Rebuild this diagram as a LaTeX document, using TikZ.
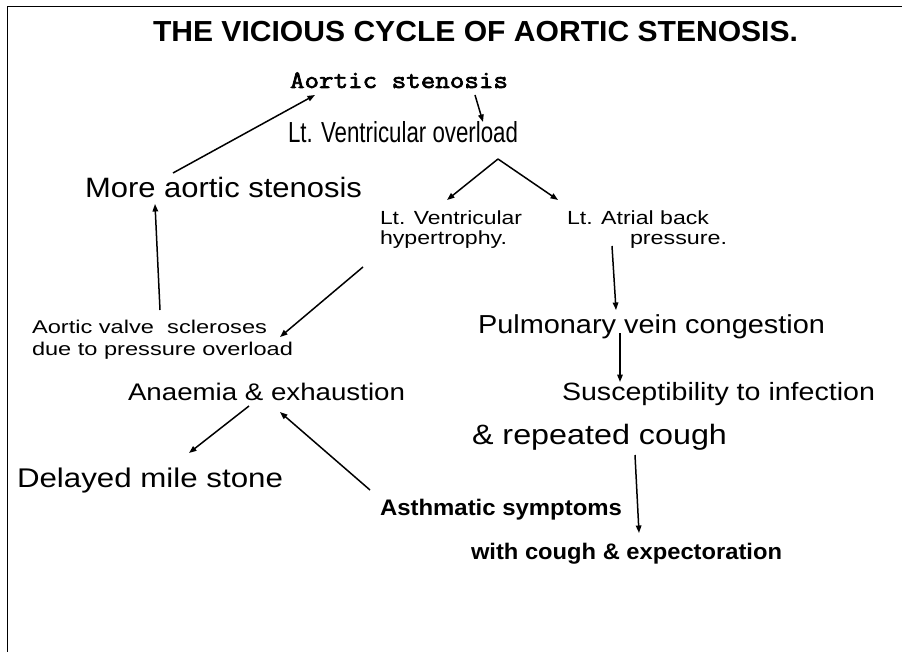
\documentclass[tikz,border=0pt]{standalone}
\usepackage{fontspec}
\setmainfont{Liberation Sans}
\newfontfamily\courb[FakeBold=2.5]{Latin Modern Mono}
\usetikzlibrary{arrows.meta}
\newcommand{\fitw}[3]{\resizebox{#1pt}{\height}{\fontsize{#2pt}{#2pt}\selectfont #3}}
\begin{document}
\begin{tikzpicture}[x=1pt,y=-1pt,
  lbl/.style={inner sep=0pt, outer sep=0pt, anchor=base west},
  arr/.style={-{Triangle[length=7.5pt,width=5.5pt]}, line width=1.5pt},
  frame/.style={line width=1pt}]
\fill[white] (0,0) rectangle (902,652);
\useasboundingbox (0,0) rectangle (902,652);
\draw[frame] (7,652) -- (7,7) -- (902,7);

\node[lbl] (title) at (153,42) {\fitw{645}{29}{\bfseries THE VICIOUS CYCLE OF AORTIC STENOSIS.}};
\node[lbl] (as) at (290,88) {\fitw{218}{25}{\courb Aortic stenosis}};
\node[lbl] (lvo) at (288,143) {\fitw{230}{29}{Lt. Ventricular overload}};
\node[lbl] (mas) at (85,198) {\fitw{277}{28}{More aortic stenosis}};
\node[lbl] (lvh1) at (380,225) {\fitw{142}{19}{Lt. Ventricular}};
\node[lbl] (lvh2) at (380,245) {\fitw{127}{19}{hypertrophy.}};
\node[lbl] (lab1) at (567,225) {\fitw{142}{19}{Lt. Atrial back}};
\node[lbl] (lab2) at (630,245) {\fitw{97}{19}{pressure.}};
\node[lbl] (avs1) at (32,333) {\fitw{235}{18.5}{Aortic valve\ \ scleroses}};
\node[lbl] (avs2) at (32,355) {\fitw{261}{18.5}{due to pressure overload}};
\node[lbl] (pvc) at (478,334) {\fitw{347}{26}{Pulmonary vein congestion}};
\node[lbl] (ae) at (128,400) {\fitw{277}{24}{Anaemia \& exhaustion}};
\node[lbl] (sti) at (562,400) {\fitw{313}{25}{Susceptibility to infection}};
\node[lbl] (rc) at (472,444) {\fitw{255}{28}{\& repeated cough}};
\node[lbl] (dms) at (17,487) {\fitw{266}{27}{Delayed mile stone}};
\node[lbl] (asy) at (380,515) {\fitw{242}{22.5}{\bfseries Asthmatic symptoms}};
\node[lbl] (wce) at (471,559) {\fitw{311}{22.5}{\bfseries with cough \& expectoration}};

\coordinate (masT) at (173,173);
\coordinate (asB) at (315,95);
\coordinate (asR) at (475,95);
\coordinate (lvoT) at (483,122);
\coordinate (split) at (498,159);
\coordinate (lvhT) at (447,200);
\coordinate (labT) at (558,200);
\coordinate (lvhB) at (363,267);
\coordinate (avsT) at (280,337);
\coordinate (avsU) at (160,310);
\coordinate (masB) at (155,204);
\coordinate (labB) at (612,246);
\coordinate (pvcT) at (616,310);
\coordinate (pvcB) at (620,333);
\coordinate (stiT) at (620,382);
\coordinate (aeB) at (249,406);
\coordinate (dmsT) at (189,453);
\coordinate (asyT) at (370,490);
\coordinate (aeR) at (280,412);
\coordinate (rcB) at (635,455);
\coordinate (wceT) at (639,533);

\draw[arr] (masT) -- (asB);
\draw[arr] (asR) -- (lvoT);
\draw[arr] (split) -- (lvhT);
\draw[arr] (split) -- (labT);
\draw[arr] (lvhB) -- (avsT);
\draw[arr] (avsU) -- (masB);
\draw[arr] (labB) -- (pvcT);
\draw[arr] (pvcB) -- (stiT);
\draw[arr] (aeB) -- (dmsT);
\draw[arr] (asyT) -- (aeR);
\draw[arr] (rcB) -- (wceT);
\end{tikzpicture}
\end{document}
